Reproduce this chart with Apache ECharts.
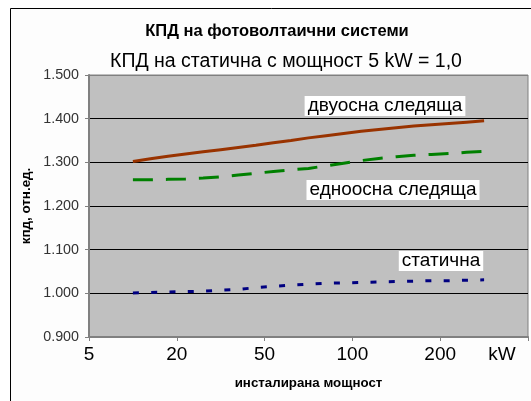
<!DOCTYPE html>
<html><head><meta charset="utf-8">
<script src="https://cdn.jsdelivr.net/npm/echarts@6/dist/echarts.min.js"></script>
<style>html,body{margin:0;padding:0;background:#fff}#c{width:531px;height:401px}</style>
</head><body><div id="c"></div>
<script>
const xTickLabels = ['5', '20', '50', '100', '200'];
const xPos = [2.5,3.5,4.5,5.5,6.5,7.5,8.5,9.5,10.5,11.5,12.5,13.5,14.5,15.5,16.5,17.5,18.5,19.5,20.5,21.5,22.5];
const dualAxis = [1.302,1.308,1.314,1.319,1.324,1.329,1.334,1.339,1.345,1.350,1.356,1.361,1.366,1.371,1.375,1.379,1.383,1.386,1.389,1.392,1.395];
const singleAxis = [1.260,1.260,1.261,1.262,1.264,1.267,1.271,1.275,1.279,1.283,1.286,1.292,1.298,1.304,1.309,1.313,1.316,1.318,1.320,1.323,1.325];
const fixedMount = [1.001,1.002,1.003,1.004,1.005,1.007,1.009,1.013,1.016,1.019,1.021,1.023,1.024,1.025,1.026,1.027,1.028,1.029,1.029,1.030,1.031];
const seriesNames = ['двуосна следяща', 'едноосна следяща', 'статична'];

const F = '"Liberation Sans", Arial, sans-serif';
const chart = echarts.init(document.getElementById('c'), null, {renderer: 'canvas'});
const pts = arr => xPos.map((x, i) => [x, arr[i]]);
chart.setOption({
  animation: false,
  backgroundColor: '#fff',
  graphic: [
    {type: 'rect', z: -10, shape: {x: 10.5, y: 8.5, width: 600, height: 500}, style: {fill: '#fdfdfd', stroke: '#000', lineWidth: 1}},
    {type: 'text', x: 277, y: 31, style: {text: 'КПД на фотоволтаични системи', font: 'bold 16.5px ' + F, fill: '#000', align: 'center', verticalAlign: 'middle'}},
    {type: 'text', x: 286, y: 62, style: {text: 'КПД на статична с мощност 5 kW = 1,0', font: '19.5px ' + F, fill: '#000', align: 'center', verticalAlign: 'middle'}},
    {type: 'text', x: 502, y: 355, style: {text: 'kW', font: '19px ' + F, fill: '#000', align: 'center', verticalAlign: 'middle'}},
    {type: 'text', x: 385, y: 106, z: 50, style: {text: seriesNames[0], font: '19px ' + F, fill: '#000', align: 'center', verticalAlign: 'middle', backgroundColor: '#fff', padding: [1, 3, 0, 3]}},
    {type: 'text', x: 393, y: 190, z: 50, style: {text: seriesNames[1], font: '19px ' + F, fill: '#000', align: 'center', verticalAlign: 'middle', backgroundColor: '#fff', padding: [1, 3, 0, 3]}},
    {type: 'text', x: 441, y: 261, z: 50, style: {text: seriesNames[2], font: '19px ' + F, fill: '#000', align: 'center', verticalAlign: 'middle', backgroundColor: '#fff', padding: [1, 3, 0, 3]}}
  ],
  grid: {left: 89, top: 75, right: -4, bottom: 64, show: true, backgroundColor: '#c0c0c0', borderColor: '#808080', borderWidth: 1},
  xAxis: {
    type: 'value', min: 0, max: 25, interval: 5,
    name: 'инсталирана мощност', nameLocation: 'middle', nameGap: 40,
    nameTextStyle: {fontFamily: F, fontWeight: 'bold', fontSize: 13.3, color: '#000'},
    axisLine: {show: true, lineStyle: {color: '#808080', width: 2}},
    axisTick: {show: true, length: 4, lineStyle: {color: '#808080'}},
    axisLabel: {fontFamily: F, fontSize: 19, color: '#000', margin: 8, formatter: v => xTickLabels[Math.round(v / 5)] || ''},
    splitLine: {show: false}
  },
  yAxis: {
    type: 'value', min: 0.9, max: 1.5, interval: 0.1,
    name: 'кпд, отн.ед.', nameLocation: 'middle', nameGap: 52, nameRotate: 90,
    nameTextStyle: {fontFamily: F, fontWeight: 'bold', fontSize: 13.4, color: '#000'},
    axisLine: {show: true, lineStyle: {color: '#808080', width: 2}},
    axisTick: {show: true, length: 4, lineStyle: {color: '#808080'}},
    axisLabel: {fontFamily: F, fontSize: 14.3, color: '#333', margin: 10, formatter: v => v.toFixed(3)},
    splitLine: {show: true, lineStyle: {color: ['#808080', '#000', '#000', '#000', '#000', '#000', '#808080'], width: 1}}
  },
  series: [
    {name: seriesNames[0], type: 'line', data: pts(dualAxis), showSymbol: false, lineStyle: {color: '#993300', width: 3}, z: 5},
    {name: seriesNames[1], type: 'line', data: pts(singleAxis), showSymbol: false, lineStyle: {color: '#008000', width: 3, type: [20, 13]}, z: 5},
    {name: seriesNames[2], type: 'line', data: pts(fixedMount), showSymbol: false, lineStyle: {color: '#000080', width: 3, type: [6, 12.3]}, z: 5}
  ]
});
</script></body></html>
